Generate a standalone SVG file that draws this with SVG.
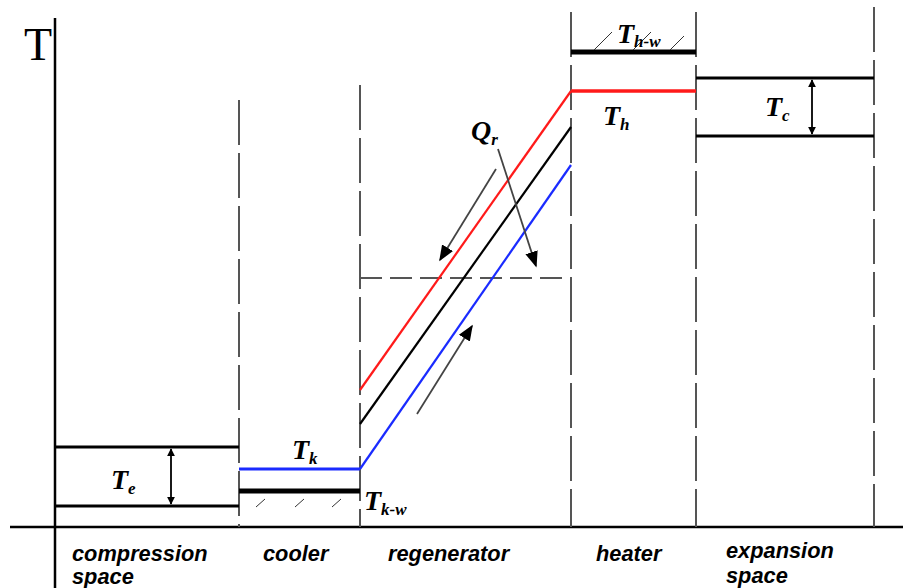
<svg xmlns="http://www.w3.org/2000/svg" width="903" height="588" viewBox="0 0 903 588">
<defs>
<marker id="ah" viewBox="0 0 10 10" refX="9" refY="5" markerWidth="8" markerHeight="8" orient="auto-start-reverse" markerUnits="userSpaceOnUse"><path d="M0,0 L10,5 L0,10 z" fill="#000"/></marker>
<marker id="ahg" viewBox="0 0 10 10" refX="9" refY="5" markerWidth="16" markerHeight="16" orient="auto" markerUnits="userSpaceOnUse"><path d="M0,1 L10,5 L0,9 z" fill="#000"/></marker>
<style>
.ax{stroke:#000;stroke-width:2.5;fill:none}
.dash{stroke:#555;stroke-width:2;stroke-dasharray:45 8;fill:none}
.lvl{stroke:#000;stroke-width:3;fill:none}
.thick{stroke:#000;stroke-width:5;fill:none}
.hatch{stroke:#333;stroke-width:1;fill:none}
.sym{font-family:"Liberation Serif",serif;font-weight:bold;font-style:italic;font-size:28px;fill:#000}
.sub{font-size:17px}
.lab{font-family:"Liberation Sans",Arial,sans-serif;font-weight:bold;font-style:italic;font-size:21.8px;fill:#000}
.grey{stroke:#444;stroke-width:1.8;fill:none}
</style>
</defs>
<g id="axes">
<line class="ax" x1="55" y1="18" x2="55" y2="588"/>
<line class="ax" x1="10" y1="527" x2="903" y2="527"/>
<text x="24" y="60" font-family="Liberation Serif,serif" font-size="46" fill="#000">T</text>
</g>
<g id="boundaries">
<line class="dash" x1="239" y1="100" x2="239" y2="527"/>
<line class="dash" x1="360" y1="85" x2="360" y2="527"/>
<line class="dash" x1="571" y1="12" x2="571" y2="527"/>
<line class="dash" x1="696" y1="12" x2="696" y2="527"/>
<line class="dash" x1="874" y1="7" x2="874" y2="527"/>
</g>
<g id="compression">
<line class="lvl" x1="55" y1="447" x2="239" y2="447"/>
<line class="lvl" x1="55" y1="506" x2="239" y2="506"/>
<line stroke="#000" stroke-width="1.8" x1="171" y1="449" x2="171" y2="504" marker-start="url(#ah)" marker-end="url(#ah)"/>
<text class="sym" x="111" y="489">T<tspan class="sub" dy="5">e</tspan></text>
</g>
<g id="cooler">
<line stroke="#1a2bff" stroke-width="3" x1="239" y1="469" x2="360" y2="469"/>
<line class="thick" x1="239" y1="491" x2="360" y2="491"/>
<line class="hatch" x1="256" y1="507" x2="265" y2="499"/>
<line class="hatch" x1="295" y1="507" x2="304" y2="499"/>
<line class="hatch" x1="332" y1="507" x2="341" y2="499"/>
<text class="sym" x="292" y="459">T<tspan class="sub" dy="5">k</tspan></text>
<text class="sym" x="364" y="510">T<tspan class="sub" dy="5">k-w</tspan></text>
</g>
<g id="regenerator">
<line stroke="#555" stroke-width="2" stroke-dasharray="22 8" x1="360" y1="278" x2="571" y2="278"/>
<polyline stroke="#ff1a1a" stroke-width="2.2" fill="none" points="360,390 571,91"/>
<line stroke="#000" stroke-width="2.2" x1="360" y1="424" x2="571" y2="127"/>
<line stroke="#1a2bff" stroke-width="2.2" x1="360" y1="469" x2="571" y2="165"/>
<text class="sym" x="471" y="140">Q<tspan class="sub" dy="5">r</tspan></text>
</g>
<g id="heater">
<line stroke="#ff1a1a" stroke-width="3.5" x1="571" y1="91" x2="696" y2="91"/>
<line class="thick" x1="571" y1="52" x2="696" y2="52"/>
<line class="hatch" x1="594" y1="50" x2="612" y2="32"/>
<line class="hatch" x1="633" y1="50" x2="651" y2="32"/>
<line class="hatch" x1="670" y1="50" x2="684" y2="36"/>
<text class="sym" x="617" y="43">T<tspan class="sub" dy="4">h-w</tspan></text>
<text class="sym" x="603" y="125">T<tspan class="sub" dy="5">h</tspan></text>
</g>
<g id="expansion">
<line class="lvl" x1="696" y1="78" x2="874" y2="78"/>
<line class="lvl" x1="696" y1="136" x2="874" y2="136"/>
<line stroke="#000" stroke-width="1.8" x1="812" y1="80" x2="812" y2="134" marker-start="url(#ah)" marker-end="url(#ah)"/>
<text class="sym" x="765" y="116">T<tspan class="sub" dy="5">c</tspan></text>
</g>
<g id="connectors">
<line class="grey" x1="496" y1="169" x2="440" y2="260" marker-end="url(#ahg)"/>
<line class="grey" x1="498" y1="149" x2="536" y2="266" marker-end="url(#ahg)"/>
<line class="grey" x1="417" y1="414" x2="472" y2="326" marker-end="url(#ahg)"/>
</g>
<g id="labels">
<text class="lab" x="72" y="561">compression</text>
<text class="lab" x="72" y="584">space</text>
<text class="lab" x="263" y="561">cooler</text>
<text class="lab" x="388" y="561">regenerator</text>
<text class="lab" x="596" y="561">heater</text>
<text class="lab" x="726" y="558">expansion</text>
<text class="lab" x="726" y="583">space</text>
</g>
</svg>
